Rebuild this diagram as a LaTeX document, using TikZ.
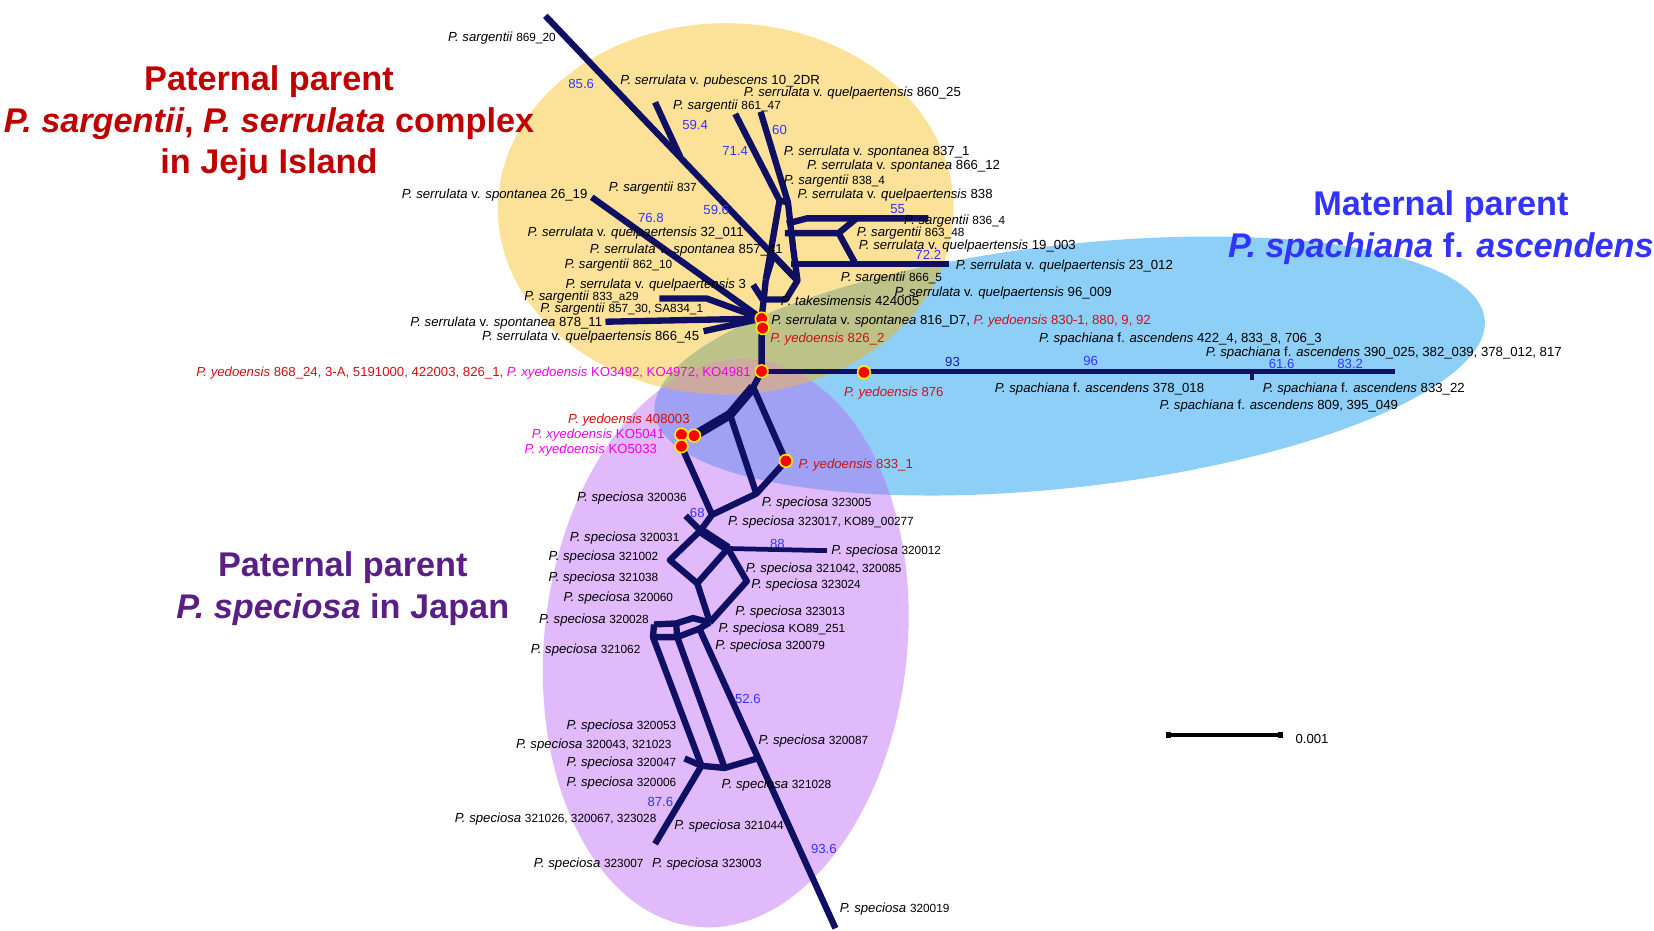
\documentclass[tikz,border=0pt]{standalone}
\usepackage{fontspec}
\setmainfont{Liberation Sans}
\definecolor{netblue}{RGB}{15,15,100}
\definecolor{bsblue}{RGB}{51,51,255}
\definecolor{bsnavy}{RGB}{25,25,170}
\definecolor{labred}{RGB}{210,15,15}
\definecolor{labmag}{RGB}{240,0,240}
\definecolor{titlered}{RGB}{192,0,0}
\definecolor{titleblue}{RGB}{51,51,255}
\definecolor{titlepurple}{RGB}{90,30,135}
\definecolor{jejuyellow}{RGB}{252,226,152}
\definecolor{spachblue}{RGB}{142,207,248}
\definecolor{specpurple}{RGB}{224,186,250}
\definecolor{ovYB}{RGB}{188,194,136}
\definecolor{ovBP}{RGB}{160,160,245}
\definecolor{ovYP}{RGB}{205,170,160}
\newcommand{\nm}[1]{{\fontsize{11.2}{13}\selectfont #1}}

\begin{document}
\begin{tikzpicture}[x=1pt,y=-1pt,
    net/.style={draw=netblue,line width=6pt,line join=round},
    netthick/.style={net,line width=9pt},
    netthin/.style={net,line width=4.5pt},
    lab/.style={inner sep=0pt,font=\fontsize{12.5}{14}\selectfont,text height=9pt,text depth=0pt},
    bs/.style={inner sep=0pt,font=\fontsize{12.5}{14}\selectfont,text=bsblue},
    hit/.style={circle,fill=red,draw=yellow,line width=1.5pt,minimum size=12pt,inner sep=0pt},
    ttl/.style={font=\fontsize{32.5}{39.5}\selectfont\bfseries,align=center}]
  \useasboundingbox (0,0) rectangle (1568,882);

  % coloured groups
  \fill[jejuyellow] (688,198) ellipse (216 and 176);
  \fill[spachblue,rotate around={6.5:(1014,347)}] (1014,347) ellipse (396 and 115);
  \fill[specpurple,rotate around={-6:(688,610)}] (688,610) ellipse (172 and 270);
  \begin{scope}
    \clip (688,198) ellipse (216 and 176);
    \fill[ovYB,rotate around={6.5:(1014,347)}] (1014,347) ellipse (396 and 115);
  \end{scope}
  \begin{scope}
    \clip[rotate around={6.5:(1014,347)}] (1014,347) ellipse (396 and 115);
    \fill[ovBP,rotate around={-6:(688,610)}] (688,610) ellipse (172 and 270);
  \end{scope}
  \begin{scope}
    \clip (688,198) ellipse (216 and 176);
    \fill[ovYP,rotate around={-6:(688,610)}] (688,610) ellipse (172 and 270);
  \end{scope}

  % network points, Jeju part
  \coordinate (t869) at (517,15);
  \coordinate (tPub) at (621,97);
  \coordinate (jPub) at (645,149);
  \coordinate (t861) at (697,108);
  \coordinate (t860) at (721,106);
  \coordinate (hA) at (739,190);
  \coordinate (hB) at (747,192);
  \coordinate (hC) at (756,266);
  \coordinate (hD) at (726,265);
  \coordinate (hE) at (752,236);
  \coordinate (hR1) at (746,212);
  \coordinate (hR1b) at (765,207);
  \coordinate (t836) at (880,207);
  \coordinate (hR2) at (744,221);
  \coordinate (hR2b) at (795,221);
  \coordinate (hR2c) at (812,207);
  \coordinate (hR2d) at (811,250);
  \coordinate (hR3) at (750,250);
  \coordinate (t23) at (900,250);
  \coordinate (hP1) at (733,242);
  \coordinate (hP2) at (745,284);
  \coordinate (hS1) at (714,270);
  \coordinate (hS2) at (723,284);
  \coordinate (s0) at (722,302);
  \coordinate (t2619) at (561,187);
  \coordinate (tA1) at (625,283);
  \coordinate (tA2) at (670,283);
  \coordinate (t878) at (574,305);
  \coordinate (t866) at (667,314);
  % centre and spachiana branch
  \coordinate (n0) at (722,352);
  \coordinate (tSp) at (1322,352);
  \coordinate (k1) at (1187,352);
  \coordinate (k2) at (1187,360);
  % speciosa part
  \coordinate (p1) at (714,367);
  \coordinate (p2) at (692,393);
  \coordinate (d1) at (646,412);
  \coordinate (d2) at (658,413);
  \coordinate (d3) at (646,423);
  \coordinate (p4) at (745,437);
  \coordinate (p5) at (717,468);
  \coordinate (p7) at (675,488);
  \coordinate (n1) at (664,503);
  \coordinate (s68) at (650,489);
  \coordinate (qL) at (635,531);
  \coordinate (qR) at (690,520);
  \coordinate (t012) at (784,522);
  \coordinate (qB) at (661,553);
  \coordinate (qRR) at (708,551);
  \coordinate (qBot) at (673,590);
  \coordinate (bx1) at (620,592);
  \coordinate (bx2) at (619,604);
  \coordinate (bx3) at (642,604);
  \coordinate (bx4) at (641,591);
  \coordinate (bx5) at (657,586);
  \coordinate (bx6) at (663,596);
  \coordinate (e0) at (649,719);
  \coordinate (e1) at (665,726);
  \coordinate (e2) at (687,728);
  \coordinate (e3) at (718,719);
  \coordinate (t006) at (621,800);
  \coordinate (t019) at (792,880);

  % branches
  \draw[net] (t869) -- (hC);
  \draw[net] (tPub) -- (jPub);
  \draw[net] (t861) -- (hA) -- (hD);
  \draw[net] (t860) -- (hB) -- (hE) -- (hC) -- (hP2) -- (hS2);
  \draw[net] (hA) -- (hB);
  \draw[net] (hP1) -- (hC);
  \draw[net] (hP1) -- (hD);
  \draw[net] (hR1) -- (hR1b) -- (t836);
  \draw[net] (hR2) -- (hR2b) -- (hR2c);
  \draw[net] (hR2b) -- (hR2d);
  \draw[net] (hR3) -- (t23);
  \draw[net] (hS1) -- (hS2);
  \draw[net] (hD) -- (s0) -- (n0);
  \draw[net] (t2619) -- (s0);
  \draw[net] (tA1) -- (tA2) -- (s0);
  \draw[net] (t878) -- (s0);
  \draw[net] (t866) -- (s0);
  \draw[netthin] (n0) -- (tSp);
  \draw[netthin] (k1) -- (k2);
  \draw[net] (n0) -- (p1);
  \draw[netthick] (p1) -- (p2) -- (d2);
  \draw[net] (p1) -- (p4) -- (p5) -- (p2);
  \draw[net] (d3) -- (p7) -- (p5);
  \draw[net] (p7) -- (n1);
  \draw[net] (s68) -- (n1);
  \draw[net] (n1) -- (qL) -- (qB);
  \draw[netthick] (n1) -- (qR);
  \draw[netthin] (qR) -- (t012);
  \draw[net] (qR) -- (qB) -- (qBot);
  \draw[net] (qR) -- (qRR) -- (qBot);
  \draw[net] (bx1) -- (bx2) -- (bx3) -- (bx4) -- (bx1);
  \draw[net] (bx4) -- (bx5) -- (qBot);
  \draw[net] (bx3) -- (bx6) -- (qBot);
  \draw[net] (bx2) -- (e1);
  \draw[net] (bx3) -- (e2);
  \draw[net] (bx6) -- (t019);
  \draw[net] (e0) -- (e1) -- (e2) -- (e3);
  \draw[net] (e1) -- (t006);

  % sampled hybrids
  \foreach \p in {s0,n0,d1,d2,d3,p4}
    \node[hit] at (\p) {};
  \node[hit] (h826) at (723,311) {};
  \node[hit] (h876) at (819,353) {};

  % scale bar
  \coordinate (sb1) at (1108,697);
  \coordinate (sb2) at (1214,697);
  \draw[line width=3.5pt] (sb1) -- (sb2);
  \draw[line width=5pt] ([yshift=-3pt]sb1) -- ([yshift=3pt]sb1);
  \draw[line width=5pt] ([yshift=-3pt]sb2) -- ([yshift=3pt]sb2);
  \node[lab,anchor=west] (sbl) at (1228,700) {0.001};

  % group titles
  \node[ttl,text=titlered] (tJeju) at (255,117)
    {Paternal parent\\\textit{P. sargentii}, \textit{P. serrulata} complex\\in Jeju Island};
  \node[ttl,text=titleblue] (tSpach) at (1366,216)
    {Maternal parent\\\textit{P. spachiana} f. \textit{ascendens}};
  \node[ttl,text=titlepurple] (tSpec) at (325,558)
    {Paternal parent\\\textit{P. speciosa} in Japan};

  % bootstrap values
  \node[bs] (b1) at (551,80) {85.6};
  \node[bs] (b2) at (659,118) {59.4};
  \node[bs] (b3) at (739,123) {60};
  \node[bs] (b4) at (697,143) {71.4};
  \node[bs] (b5) at (679,199) {59.6};
  \node[bs] (b6) at (851,198) {55};
  \node[bs] (b7) at (617,207) {76.8};
  \node[bs] (b8) at (880,242) {72.2};
  \node[bs,text=bsnavy] (b9) at (903,343) {93};
  \node[bs] (b10) at (1034,342) {96};
  \node[bs] (b11) at (1215,345) {61.6};
  \node[bs] (b12) at (1280,345) {83.2};
  \node[bs] (b13) at (661,486) {68};
  \node[bs] (b14) at (737,516) {88};
  \node[bs] (b15) at (709,663) {52.6};
  \node[bs] (b16) at (626,760) {87.6};
  \node[bs] (b17) at (781,805) {93.6};

  % Jeju taxa
  \node[lab,anchor=east] (l869) at (527,35) {\textit{P. sargentii} \nm{869\_20}};
  \node[lab,anchor=west] (l10) at (588,76) {\textit{P. serrulata} v. \textit{pubescens} 10\_2DR};
  \node[lab,anchor=west] (l860) at (705,87) {\textit{P. serrulata} v. \textit{quelpaertensis} 860\_25};
  \node[lab,anchor=west] (l861) at (638,99) {\textit{P. sargentii} \nm{861\_47}};
  \node[lab,anchor=west] (l8371) at (743,143) {\textit{P. serrulata} v. \textit{spontanea} 837\_1};
  \node[lab,anchor=west] (l86612) at (765,156) {\textit{P. serrulata} v. \textit{spontanea} 866\_12};
  \node[lab,anchor=west] (l8384) at (743,170) {\textit{P. sargentii} \nm{838\_4}};
  \node[lab,anchor=west] (l837) at (577,177) {\textit{P. sargentii} \nm{837}};
  \node[lab,anchor=east] (l2619) at (557,184) {\textit{P. serrulata} v. \textit{spontanea} 26\_19};
  \node[lab,anchor=west] (l838) at (756,184) {\textit{P. serrulata} v. \textit{quelpaertensis} 838};
  \node[lab,anchor=west] (l8364) at (857,208) {\textit{P. sargentii} \nm{836\_4}};
  \node[lab,anchor=west] (l86348) at (812,220) {\textit{P. sargentii} \nm{863\_48}};
  \node[lab,anchor=west] (l32011) at (500,220) {\textit{P. serrulata} v. \textit{quelpaertensis} 32\_011};
  \node[lab,anchor=west] (l19003) at (814,232) {\textit{P. serrulata} v. \textit{quelpaertensis} 19\_003};
  \node[lab,anchor=west] (l85741) at (559,236) {\textit{P. serrulata} v. \textit{spontanea} 857\_41};
  \node[lab,anchor=west] (l86210) at (535,250) {\textit{P. sargentii} \nm{862\_10}};
  \node[lab,anchor=west] (l23012) at (906,251) {\textit{P. serrulata} v. \textit{quelpaertensis} 23\_012};
  \node[lab,anchor=west] (l8665) at (797,262) {\textit{P. sargentii} \nm{866\_5}};
  \node[lab,anchor=west] (l3) at (536,269) {\textit{P. serrulata} v. \textit{quelpaertensis} 3};
  \node[lab,anchor=west] (l96009) at (848,277) {\textit{P. serrulata} v. \textit{quelpaertensis} 96\_009};
  \node[lab,anchor=west] (l833a) at (497,280) {\textit{P. sargentii} \nm{833\_a29}};
  \node[lab,anchor=west] (ltak) at (740,285) {\textit{P. takesimensis} 424005};
  \node[lab,anchor=west] (l85730) at (512,292) {\textit{P. sargentii} \nm{857\_30, SA834\_1}};
  \node[lab,anchor=east] (l87811) at (571,305) {\textit{P. serrulata} v. \textit{spontanea} 878\_11};
  \node[lab,anchor=west] (l816) at (731,303) {\textit{P. serrulata} v. \textit{spontanea} 816\_D7,
    \textcolor{labred}{\textit{P. yedoensis} 830-1, 880, 9, 92}};
  \node[lab,anchor=east] (l86645) at (663,318) {\textit{P. serrulata} v. \textit{quelpaertensis} 866\_45};
  \node[lab,anchor=west,text=labred] (l8262) at (730,320) {\textit{P. yedoensis} 826\_2};
  \node[lab,anchor=east] (l86824) at (712,352) {\textcolor{labred}{\textit{P. yedoensis} 868\_24, 3-A, 5191000, 422003, 826\_1,}
    \textcolor{labmag}{\textit{P. xyedoensis} KO3492, KO4972, KO4981}};

  % spachiana taxa
  \node[lab,anchor=west] (lsp1) at (985,320) {\textit{P. spachiana} f. \textit{ascendens} 422\_4, 833\_8, 706\_3};
  \node[lab,anchor=west] (lsp2) at (1143,333) {\textit{P. spachiana} f. \textit{ascendens} 390\_025, 382\_039, 378\_012, 817};
  \node[lab,anchor=west,text=labred] (l876) at (800,371) {\textit{P. yedoensis} 876};
  \node[lab,anchor=west] (lsp3) at (943,368) {\textit{P. spachiana} f. \textit{ascendens} 378\_018};
  \node[lab,anchor=west] (lsp4) at (1197,368) {\textit{P. spachiana} f. \textit{ascendens} 833\_22};
  \node[lab,anchor=west] (lsp5) at (1099,384) {\textit{P. spachiana} f. \textit{ascendens} 809, 395\_049};

  % speciosa taxa
  \node[lab,anchor=east,text=labred] (l408) at (654,397) {\textit{P. yedoensis} 408003};
  \node[lab,anchor=east,text=labmag] (l5041) at (630,411) {\textit{P. xyedoensis} KO5041};
  \node[lab,anchor=east,text=labmag] (l5033) at (623,425) {\textit{P. xyedoensis} KO5033};
  \node[lab,anchor=west,text=labred] (l8331) at (757,440) {\textit{P. yedoensis} 833\_1};
  \node[lab,anchor=west] (c36) at (547,471) {\textit{P. speciosa} \nm{320036}};
  \node[lab,anchor=west] (c05) at (722,476) {\textit{P. speciosa} \nm{323005}};
  \node[lab,anchor=west] (c17) at (690,494) {\textit{P. speciosa} \nm{323017, KO89\_00277}};
  \node[lab,anchor=west] (c31) at (540,509) {\textit{P. speciosa} \nm{320031}};
  \node[lab,anchor=west] (c12) at (788,521) {\textit{P. speciosa} \nm{320012}};
  \node[lab,anchor=west] (c02) at (520,527) {\textit{P. speciosa} \nm{321002}};
  \node[lab,anchor=west] (c42) at (707,538) {\textit{P. speciosa} \nm{321042, 320085}};
  \node[lab,anchor=west] (c38) at (520,547) {\textit{P. speciosa} \nm{321038}};
  \node[lab,anchor=west] (c24) at (712,553) {\textit{P. speciosa} \nm{323024}};
  \node[lab,anchor=west] (c60) at (534,566) {\textit{P. speciosa} \nm{320060}};
  \node[lab,anchor=west] (c13) at (697,579) {\textit{P. speciosa} \nm{323013}};
  \node[lab,anchor=west] (c28) at (511,587) {\textit{P. speciosa} \nm{320028}};
  \node[lab,anchor=west] (c251) at (681,595) {\textit{P. speciosa} \nm{KO89\_251}};
  \node[lab,anchor=west] (c79) at (678,611) {\textit{P. speciosa} \nm{320079}};
  \node[lab,anchor=west] (c62) at (503,615) {\textit{P. speciosa} \nm{321062}};
  \node[lab,anchor=west] (c53) at (537,687) {\textit{P. speciosa} \nm{320053}};
  \node[lab,anchor=west] (c87) at (719,701) {\textit{P. speciosa} \nm{320087}};
  \node[lab,anchor=west] (c43) at (489,705) {\textit{P. speciosa} \nm{320043, 321023}};
  \node[lab,anchor=west] (c47) at (537,722) {\textit{P. speciosa} \nm{320047}};
  \node[lab,anchor=west] (c28b) at (684,743) {\textit{P. speciosa} \nm{321028}};
  \node[lab,anchor=west] (c06) at (537,741) {\textit{P. speciosa} \nm{320006}};
  \node[lab,anchor=west] (c26) at (431,775) {\textit{P. speciosa} \nm{321026, 320067, 323028}};
  \node[lab,anchor=west] (c44) at (639,782) {\textit{P. speciosa} \nm{321044}};
  \node[lab,anchor=west] (c07) at (506,818) {\textit{P. speciosa} \nm{323007}};
  \node[lab,anchor=west] (c03) at (618,818) {\textit{P. speciosa} \nm{323003}};
  \node[lab,anchor=west] (c19) at (796,861) {\textit{P. speciosa} \nm{320019}};
\end{tikzpicture}
\end{document}
